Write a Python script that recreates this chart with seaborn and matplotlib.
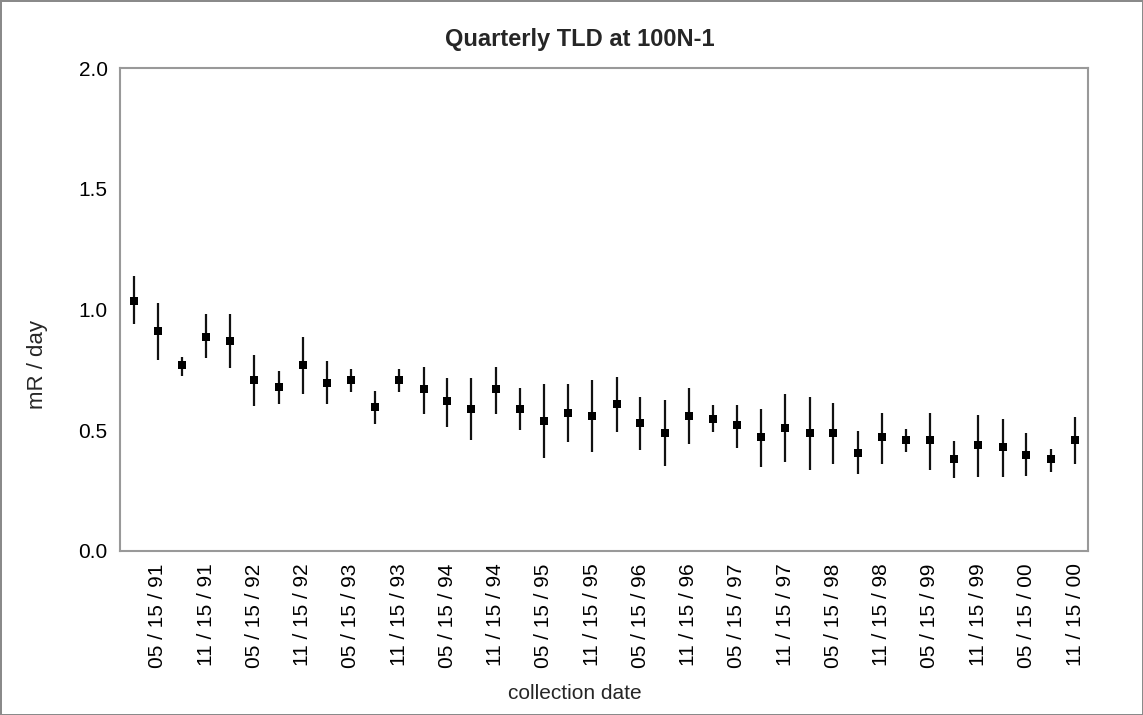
import pandas as pd
import matplotlib
matplotlib.use("Agg")
import matplotlib.pyplot as plt
import matplotlib.dates as mdates
import seaborn as sns

# quarterly collection dates, Feb 1991 .. Nov 2000
dates = [f"{y}-{m:02d}-15" for y in range(1991, 2001) for m in (2, 5, 8, 11)]

mean = [1.035, 0.911, 0.769, 0.886, 0.870, 0.708, 0.678, 0.769, 0.694, 0.708,
        0.596, 0.708, 0.671, 0.621, 0.587, 0.671, 0.587, 0.537, 0.570, 0.558,
        0.609, 0.529, 0.487, 0.558, 0.545, 0.520, 0.471, 0.508, 0.487, 0.487,
        0.405, 0.471, 0.458, 0.458, 0.380, 0.438, 0.429, 0.396, 0.380, 0.458]
upper = [1.139, 1.028, 0.805, 0.980, 0.980, 0.813, 0.747, 0.887, 0.788, 0.755,
         0.664, 0.755, 0.763, 0.715, 0.715, 0.763, 0.674, 0.690, 0.690, 0.707,
         0.722, 0.639, 0.624, 0.674, 0.606, 0.606, 0.589, 0.649, 0.639, 0.614,
         0.498, 0.573, 0.506, 0.573, 0.457, 0.564, 0.548, 0.490, 0.424, 0.556]
lower = [0.940, 0.791, 0.725, 0.798, 0.757, 0.600, 0.609, 0.649, 0.609, 0.658,
         0.526, 0.658, 0.567, 0.515, 0.460, 0.566, 0.501, 0.385, 0.450, 0.409,
         0.491, 0.418, 0.352, 0.442, 0.491, 0.425, 0.349, 0.367, 0.335, 0.359,
         0.318, 0.359, 0.409, 0.334, 0.301, 0.308, 0.308, 0.309, 0.326, 0.359]

df = pd.DataFrame({"date": pd.to_datetime(dates), "mean": mean,
                   "lower": lower, "upper": upper})

sns.set_style("white")
plt.rcParams["font.family"] = ["Liberation Sans", "DejaVu Sans"]

fig = plt.figure(figsize=(11.43, 7.15), dpi=100)
fig.patch.set_edgecolor("#8a8a8a")
fig.patch.set_linewidth(2)
ax = fig.add_axes([120 / 1143, 1 - 551 / 715, 968 / 1143, 483 / 715])

ax.vlines(df["date"], df["lower"], df["upper"], color="#111111", linewidth=1.6)
sns.scatterplot(data=df, x="date", y="mean", marker="s", s=36, color="black",
                edgecolor="black", linewidth=0, ax=ax, zorder=3)

ax.set_ylim(0, 2.0)
ax.set_yticks([0, 0.5, 1.0, 1.5, 2.0])
ax.yaxis.set_major_formatter(matplotlib.ticker.FormatStrFormatter("%.1f"))
ax.set_xlim(pd.Timestamp("1990-12-24"), pd.Timestamp("2001-01-03"))
ax.set_xticks(df["date"][1::2])
ax.xaxis.set_major_formatter(mdates.DateFormatter("%m / %d / %y"))
plt.setp(ax.get_xticklabels(), rotation=90)

for s in ax.spines.values():
    s.set_color("#999999")
    s.set_linewidth(1.5)
ax.tick_params(axis="both", direction="out", length=6, width=1.3, color="#999999",
               labelcolor="black", pad=3)
ax.tick_params(axis="x", labelsize=15)
ax.tick_params(axis="y", labelsize=15)

ax.set_title("Quarterly TLD at 100N-1", fontsize=17, fontweight="bold", pad=16, x=0.475)
ax.set_ylabel("mR / day", fontsize=16)
ax.yaxis.set_label_coords(-0.0745, 0.387)
ax.set_xlabel("collection date", fontsize=15)
ax.xaxis.set_label_coords(0.47, -0.275)

fig.savefig("out.png", dpi=100)
